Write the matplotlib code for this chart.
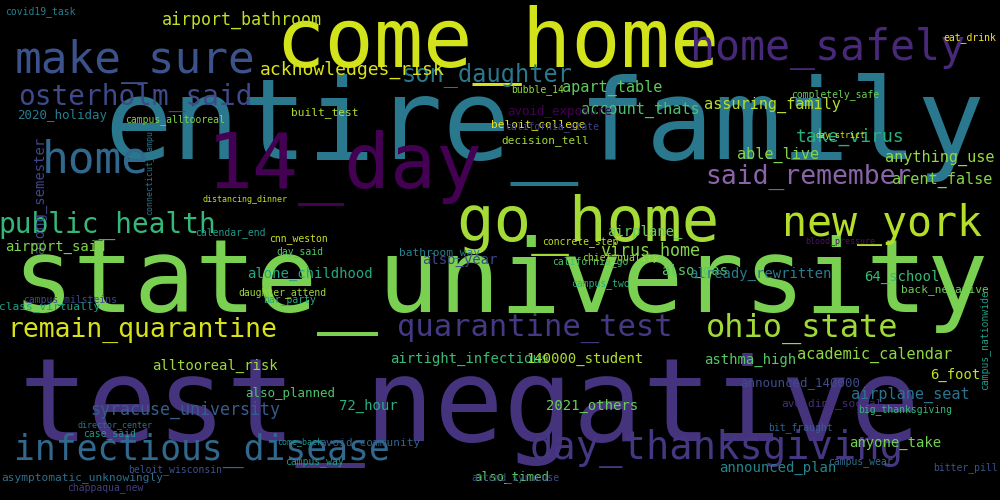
"""
Word cloud recreation: bigram frequencies, thanksgiving / campus testing
"""
import matplotlib
matplotlib.use("Agg")
import matplotlib.pyplot as plt

# word, centre x (px), centre y (px from top), font size (pt), colour, rotation
words = [
    "entire_family", "state_university", "test_negative", "come_home", "14_day",
    "home_safely", "make_sure", "osterholm_said", "home", "go_home", "new_york",
    "said_remember", "public_health", "remain_quarantine", "quarantine_test",
    "ohio_state", "infectious_disease", "day_thanksgiving", "son_daughter",
    "acknowledges_risk", "airport_bathroom", "assuring_family", "take_virus",
    "anything_use", "arent_false", "apart_table", "account_thats", "able_live",
    "virus_home", "also_gas", "already_rewritten", "64_school", "back_negative",
    "academic_calendar", "asthma_high", "announced_140000", "6_foot",
    "airplane_seat", "avoiding_social", "airtight_infectious", "140000_student",
    "alltooreal_risk", "also_planned", "syracuse_university", "72_hour",
    "2021_others", "announced_plan", "anyone_take", "also_timed",
    "asymptomatic_unknowingly", "airplane_", "alone_childhood", "also_year",
    "along_semester", "airport_said", "2020_holiday", "campus_alltooreal",
    "built_test", "bubble_14", "avoid_exposure", "beloit_college", "decision_tell",
    "california_state", "bathroom_way", "bar_party", "class_virtually",
    "chief_quality", "campus_two", "campus_nationwide", "covid19_task",
    "big_thanksgiving", "eat_drink", "daughter_attend",
    "cnn_weston", "day_said", "california_go", "concrete_step", "blood_pressure",
    "campus_milsteins", "calendar_end", "bitter_pill", "attend_syracuse",
    "avoid_community", "campus_way", "campus_wear", "bit_fraught", "case_said",
    "chappaqua_new", "beloit_wisconsin", "completely_safe", "day_strict",
    "connecticut_campus", "come_back", "director_center", "distancing_dinner",
]
xs = [545, 500, 470, 497, 345, 828, 135, 135, 95, 588, 882,
      808, 107, 142, 535, 802, 202, 717, 487,
      352, 242, 772, 850, 940, 942, 612, 640, 778,
      650, 695, 760, 902, 945,
      875, 750, 800, 955, 910, 832, 470, 585,
      215, 290, 185, 368,
      592, 778, 895, 512,
      82, 645, 310, 460,
      40, 55, 62, 175,
      325, 538, 560, 538, 545,
      552, 440, 290, 50,
      620, 600, 985, 40,
      905, 970, 282,
      298, 300, 590, 580, 840,
      70, 230, 965, 515,
      370, 315, 860, 800, 110, 105, 175, 835, 840,
      150, 300, 115, 245]
ys = [130, 285, 410, 45, 168, 48, 62, 97, 160, 225, 225,
      177, 225, 330, 328, 328, 450, 448, 75,
      70, 20, 105, 137, 158, 180, 88, 110, 155,
      251, 271, 274, 277, 290,
      355, 360, 383, 375, 395, 404, 359, 359,
      366, 393, 410, 406,
      406, 468, 443, 477,
      478, 232, 274, 260,
      195, 247, 116, 120,
      113, 90, 111, 125, 141,
      127, 253, 300, 307,
      258, 285, 340, 12,
      410, 38, 293,
      240, 252, 262, 243, 242,
      300, 233, 468, 478,
      443, 462, 462, 428, 434, 488, 470, 95, 136,
      170, 442, 425, 200]
sizes = [81, 73, 83, 59, 55, 30, 32, 20, 32, 45, 30,
         19, 20, 19, 22, 23, 25, 28, 17,
         13, 12, 11, 13, 11, 11, 11, 11, 11,
         12, 10, 10, 10, 8,
         11, 10, 9, 10, 11, 8, 10, 10,
         10, 9, 12, 10,
         10, 10, 10, 9,
         8, 10, 10, 10,
         10, 10, 9, 7,
         8, 7, 9, 8, 8,
         7, 8, 7, 8,
         7, 7, 7, 7,
         7, 7, 7,
         7, 7, 7, 7, 6,
         7, 7, 7, 7,
         8, 7, 7, 7, 7, 7, 7, 7, 6,
         6, 6, 6, 6]
colors = ["#2a788e", "#7ad151", "#46337e", "#d2e21b", "#440154",
          "#482878", "#3b528b", "#3e4a89", "#31688e", "#a5db36", "#b5de2b",
          "#8b63a8", "#35b779", "#d8e219", "#443983", "#a0da39", "#31688e", "#453781", "#2a788e",
          "#dde318", "#c2df23", "#b8de29", "#2ab07f", "#95d840", "#86d549",
          "#5ec962", "#4ac16d", "#84d44b",
          "#85d54a", "#5cc863", "#287c8e", "#38b977", "#6ece58",
          "#90d743", "#56c667", "#3e4c8a", "#c5e021", "#2c728e", "#472d7b",
          "#3aba76", "#b0dd2f", "#9bd93c", "#4ec36b", "#365c8d", "#27ad81",
          "#6ccd5a", "#25858e", "#75d054", "#5ac864",
          "#2d708e", "#67cc5c", "#22a884", "#404688",
          "#3f4788", "#7fd34e", "#287d8e", "#81d34d",
          "#b2dd2d", "#90d743", "#440154", "#e5e419", "#a2da37",
          "#414287", "#26828e", "#22a785", "#1fa187",
          "#a2da37", "#29af7f", "#1f9e89", "#277f8e",
          "#35b779", "#fde725", "#9dd93b",
          "#cae11f", "#54c568", "#4ac16d", "#c0df25", "#471365",
          "#3e4a89", "#1f9a8a", "#3b528b", "#3d4e8a",
          "#33638d", "#1e9c89", "#2e6f8e", "#355f8d", "#1f988b", "#433e85", "#3b528b", "#6ece58", "#dce319",
          "#2a768e", "#20928c", "#2c718e", "#bddf26"]
rotations = [0] * len(words)
rotations[words.index("along_semester")] = 90
rotations[words.index("campus_nationwide")] = 90
rotations[words.index("connecticut_campus")] = 90

fig = plt.figure(figsize=(10, 5), dpi=100, facecolor="black")
ax = fig.add_axes([0, 0, 1, 1])
ax.set_facecolor("black")
ax.set_xlim(0, 1000)
ax.set_ylim(500, 0)
ax.axis("off")

for w, x, y, s, c, r in zip(words, xs, ys, sizes, colors, rotations):
    ax.text(x, y, w, fontsize=s, color=c, rotation=r, ha="center", va="center",
            family="DejaVu Sans Mono")

plt.savefig("out.png", dpi=100, facecolor="black")
plt.close(fig)
